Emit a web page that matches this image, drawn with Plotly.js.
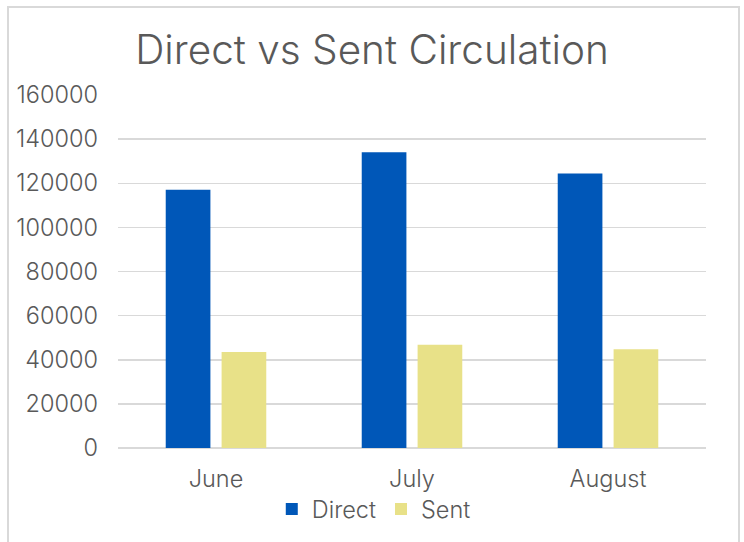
<!DOCTYPE html>
<html>
<head>
<meta charset="utf-8">
<script src="https://cdn.plot.ly/plotly-3.0.1.min.js"></script>
<style>
  html, body { margin: 0; padding: 0; background: #fff; }
  #wrap { position: relative; width: 744px; height: 542px; overflow: hidden; }
  #chart { width: 744px; height: 542px; }
  #frame { position: absolute; left: 7px; top: 6px; width: 729px; height: 560px;
           border-top: 2px solid #d9d9d9; border-left: 2px solid #d9d9d9; border-right: 2px solid #d9d9d9;
           pointer-events: none; }
</style>
</head>
<body>
<div id="wrap">
  <div id="chart"></div>
  <div id="frame"></div>
</div>
<script>
const months = ["June", "July", "August"];
const direct = [117000, 134000, 124400];
const sent = [43500, 46800, 44800];
const yTicks = [0, 20000, 40000, 60000, 80000, 100000, 120000, 140000, 160000];

const fontFam = "Inter, 'Open Sans', sans-serif";
const textColor = "#595959";

const traces = [
  { type: "bar", name: "Direct", x: months, y: direct, marker: { color: "#0057B8" }, hoverinfo: "x+y" },
  { type: "bar", name: "Sent", x: months, y: sent, marker: { color: "#E8E188" }, hoverinfo: "x+y" }
];

const layout = {
  width: 744, height: 542,
  paper_bgcolor: "#ffffff", plot_bgcolor: "#ffffff",
  margin: { l: 118, r: 38, t: 95, b: 93 },
  font: { family: fontFam, color: textColor, size: 23.5, weight: 300 },
  title: { text: "Direct vs Sent Circulation", x: 0.5, xref: "container", xanchor: "center", y: 0.908, yanchor: "middle",
           font: { family: fontFam, size: 40.5, color: textColor, weight: 300 } },
  barmode: "group", bargap: 0.43, bargroupgap: 0.2,
  xaxis: { type: "category", showgrid: false, zeroline: false, showline: false, ticks: "",
           tickfont: { size: 23.5, color: textColor, weight: 300 }, ticklabelstandoff: 14 },
  yaxis: { range: [0, 160000], tickvals: yTicks, ticktext: yTicks.map(String),
           showgrid: true, gridcolor: "#d9d9d9", gridwidth: 1.5, zeroline: true, zerolinecolor: "#d9d9d9", zerolinewidth: 1.5,
           showline: false, ticks: "", tickfont: { size: 23.5, color: textColor, weight: 300 }, ticklabelstandoff: 19 },
  legend: { orientation: "h", x: 0.435, xanchor: "center", y: -0.17, yanchor: "middle",
            bgcolor: "rgba(0,0,0,0)",
            font: { size: 23.5, color: textColor, weight: 300 }, itemwidth: 30, traceorder: "normal" },
  showlegend: true
};

Plotly.newPlot("chart", traces, layout, { displayModeBar: false, staticPlot: true });
</script>
</body>
</html>
